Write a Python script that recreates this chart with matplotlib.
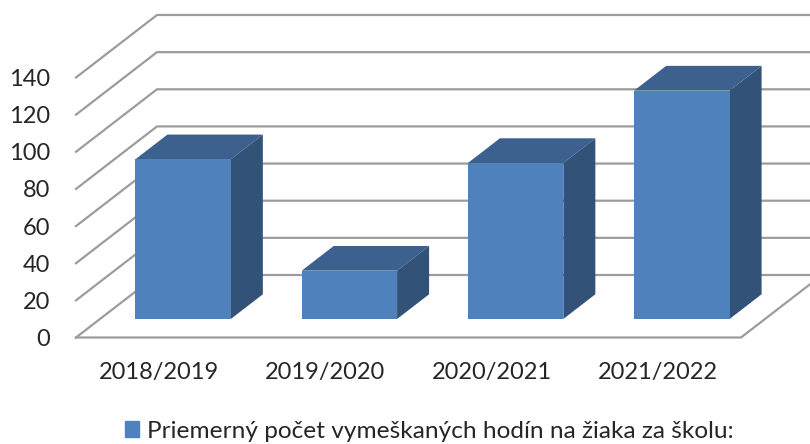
import matplotlib
matplotlib.use("Agg")
import matplotlib.pyplot as plt
from matplotlib.patches import Patch

plt.rcParams['font.family'] = ['Lato', 'DejaVu Sans']

categories = ['2018/2019', '2019/2020', '2020/2021', '2021/2022']
values = [86, 26, 84, 123]
y_ticks = [0, 20, 40, 60, 80, 100, 120, 140]
legend_label = 'Priemerný počet vymeškaných hodín na žiaka za školu:'

grid_color = '#9c9c9c'
front_color = '#4f81bd'
top_color = '#3c618e'
side_color = '#325278'

fig = plt.figure(figsize=(8.1, 4.44), dpi=100)
ax = fig.add_axes([76 / 810, (444 - 337.5) / 444, 665 / 810, 260 / 444])
ax.set_xlim(-0.5, 3.5)
ax.set_ylim(0, 140)

# depth of the fake 3d box, in data units
depth_x = 81 / 166.25
depth_y = 62.5 / (260 / 140)

# floor and walls
for v in y_ticks:
    ax.plot([-0.5, -0.5 + depth_x, 4.2], [v, v + depth_y, v + depth_y],
            color=grid_color, lw=1.6, clip_on=False, zorder=1, solid_joinstyle='miter')
ax.plot([-0.5, 3.5, 3.5 + depth_x], [0, 0, depth_y],
        color=grid_color, lw=1.6, clip_on=False, zorder=1, solid_joinstyle='miter')

# bars: front, top and side faces
bar_w = 0.574
d1 = 24 / 81
d2 = 56 / 81
for i, v in enumerate(values):
    x0 = i - bar_w / 2 + d1 * depth_x
    x1 = x0 + bar_w
    y0 = d1 * depth_y
    y1 = y0 + v
    sx = (d2 - d1) * depth_x
    sy = (d2 - d1) * depth_y
    ax.fill([x0, x1, x1 + sx, x0 + sx], [y1, y1, y1 + sy, y1 + sy],
            color=top_color, lw=0, zorder=3, clip_on=False)
    ax.fill([x1, x1 + sx, x1 + sx, x1], [y0, y0 + sy, y1 + sy, y1],
            color=side_color, lw=0, zorder=3, clip_on=False)
    ax.bar(x0 + bar_w / 2, v, bar_w, bottom=y0, color=front_color, zorder=4, clip_on=False)

for s in ax.spines.values():
    s.set_visible(False)

ax.set_xticks(range(len(categories)))
ax.set_xticklabels(categories)
ax.set_yticks(y_ticks)
ax.tick_params(axis='y', length=0, pad=18.5, labelsize=17, labelcolor='#262626')
ax.tick_params(axis='x', length=0, pad=17.5, labelsize=17, labelcolor='#262626')

fig.legend(handles=[Patch(color=front_color, label=legend_label)],
           loc='center', bbox_to_anchor=(429 / 810, (444 - 431) / 444), frameon=False,
           fontsize=17.6, labelcolor='#262626', handlelength=0.6, handleheight=0.6,
           handletextpad=0.3, borderpad=0, borderaxespad=0)

fig.savefig('out.png', dpi=100)
